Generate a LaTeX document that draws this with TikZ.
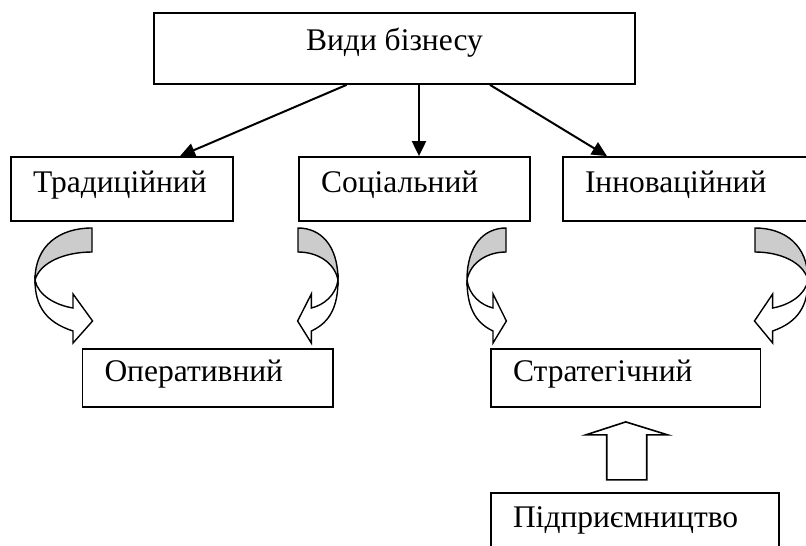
\documentclass[tikz,border=0pt]{standalone}
\usepackage{fontspec}
\setmainfont{Liberation Serif}
\usetikzlibrary{arrows.meta,calc}
\definecolor{ribbongrey}{RGB}{204,204,204}

% Twisted ribbon arrow: #1 = x of the tail, #2 = signed horizontal bulge
\newcommand\ribbonarrow[2]{%
  \begin{scope}[shift={(#1,0)},xscale=#2]
    \filldraw[ribbon,fill=ribbongrey]
      (0,228) .. controls (-0.56,228) and (-1,245) .. (-1,280)
      .. controls (-0.91,262) and (-0.47,252) .. (0,252) -- cycle;
    \filldraw[ribbon,fill=white]
      (-1,280) .. controls (-0.95,295) and (-0.65,305) .. (-0.333,308)
      -- (-0.333,294) -- (0.01,321) -- (-0.333,343) -- (-0.333,331)
      .. controls (-0.825,322) and (-1,305) .. (-1,280) -- cycle;
  \end{scope}}

% left-aligned label of a given width
\newcommand\lbl[2]{\makebox[#1][l]{#2}}

\begin{document}
\begin{tikzpicture}[x=1pt,y=-1pt,
  box/.style={draw,line width=1.8pt,inner ysep=0pt,
    font=\fontsize{31.5}{38}\selectfont,text height=0.8em,text depth=0.2em},
  headbox/.style={box,text height=0.72em,text depth=0.3em},
  leftbox/.style={box,inner xsep=22pt},
  link/.style={line width=2pt,-{Triangle[length=15pt,width=14pt]}},
  ribbon/.style={line width=1.4pt},
  blockarrow/.style={draw,line width=1.6pt,fill=white}]
\useasboundingbox (0,0) rectangle (806,546);
\clip (0,0) rectangle (806,546);

% boxes
\node[headbox,minimum width=481pt,minimum height=71pt] (top) at (394.5,48.5) {Види бізнесу};
\node[leftbox,minimum height=64pt] (trad) at (122,189) {\lbl{178pt}{Традиційний}};
\node[leftbox,minimum height=64pt] (soc) at (414.5,189) {\lbl{187pt}{Соціальний}};
\node[leftbox,minimum height=64pt] (inn) at (685,189) {\lbl{200pt}{Інноваційний}};
\node[leftbox,minimum height=58pt] (oper) at (207.75,378) {\lbl{206.5pt}{Оперативний}};
\node[leftbox,minimum height=58pt] (strat) at (625.75,378) {\lbl{225.5pt}{Стратегічний}};
\node[leftbox,minimum height=63pt] (podp) at (635,524.5) {\lbl{244pt}{Підприємництво}};

% arrows from the top box
\draw[link] ([xshift=-48pt]top.south) -- ([xshift=58pt]trad.north);
\draw[link] ([xshift=24.5pt]top.south) -- ([xshift=4.5pt]soc.north);
\draw[link] ([xshift=95.5pt]top.south) -- ([xshift=-78pt]inn.north);

% curved ribbon arrows
\ribbonarrow{92}{57}
\ribbonarrow{298}{-40}
\ribbonarrow{506}{39}
\ribbonarrow{755}{-53}

% hollow block arrow into the strategic box
\coordinate (ha) at ([yshift=-14pt]strat.south);
\draw[blockarrow] (ha) -- ++(42,13) -- ++(-21,0) -- ++(0,45) -- ++(-40,0)
  -- ++(0,-45) -- ++(-21,0) -- cycle;
\end{tikzpicture}
\end{document}
